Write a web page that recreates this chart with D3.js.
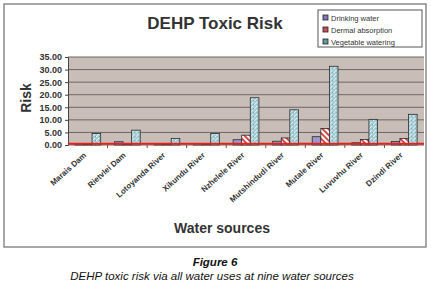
<!DOCTYPE html>
<html>
<head>
<meta charset="utf-8">
<script src="https://cdn.jsdelivr.net/npm/d3@7"></script>
<style>
  body { margin: 0; background: #fff; }
  svg { display: block; font-family: "Liberation Sans", Arial, sans-serif; }
</style>
</head>
<body>
<svg id="chart" width="431" height="288"></svg>
<script>
const sources = ["Marais Dam", "Rietvlei Dam", "Lotoyanda River", "Xikundu River", "Nzhelele River",
    "Mutshindudi River", "Mutale River", "Luvuvhu River", "Dzindi River"];
const series = ["Drinking water", "Dermal absorption", "Vegetable watering"];
const drinking = [0.1, 1.3, 0.1, 0.6, 2.1, 1.5, 3.3, 0.9, 1.4];
const dermal = [0.2, 0.3, 0.2, 0.2, 3.9, 2.8, 6.6, 2.2, 2.6];
const vegetable = [4.6, 5.9, 2.6, 4.6, 18.8, 14.0, 31.3, 10.2, 12.2];
const yTicks = [0, 5, 10, 15, 20, 25, 30, 35];
const threshold = 0.5;

const svg = d3.select("#chart");
const margin = { left: 68, right: 424, top: 57, bottom: 145 };

// patterns
var defs = svg.append("defs");
var stripes = defs.append("pattern")
    .attr("id", "stripes")
    .attr("patternUnits", "userSpaceOnUse")
    .attr("width", 4).attr("height", 4)
    .attr("patternTransform", "rotate(-45)");
stripes.append("rect").attr("width", 4).attr("height", 4).attr("fill", "#fff");
stripes.append("rect").attr("width", 2).attr("height", 4).attr("fill", "#d4494a");

var dots = defs.append("pattern")
    .attr("id", "dots")
    .attr("patternUnits", "userSpaceOnUse")
    .attr("width", 4).attr("height", 4);
dots.append("rect").attr("width", 4).attr("height", 4).attr("fill", "#a3ccd5");
dots.append("rect").attr("x", 0).attr("y", 0).attr("width", 1).attr("height", 1).attr("fill", "#fff");
dots.append("rect").attr("x", 2).attr("y", 2).attr("width", 1).attr("height", 1).attr("fill", "#f2fafb");
dots.append("rect").attr("x", 3).attr("y", 0).attr("width", 1).attr("height", 1).attr("fill", "#6f9eaa");
dots.append("rect").attr("x", 1).attr("y", 3).attr("width", 1).attr("height", 1).attr("fill", "#dcf0f3");

const fills = ["#9d97cf", "url(#stripes)", "url(#dots)"];
const swatchFills = ["#7f78bf", "#c85058", "#5f9aa5"];

// frame
svg.append("rect")
    .attr("x", 4).attr("y", 4).attr("width", 422).attr("height", 243)
    .attr("fill", "#fff").attr("stroke", "#8a8a8a").attr("stroke-width", 1.5);

const x = d3.scaleBand().domain(sources).range([margin.left, margin.right]).padding(0);
const xInner = d3.scaleBand().domain(series).range([0, x.bandwidth()]).paddingInner(0).paddingOuter(0.8);
const y = d3.scaleLinear().domain([0, 35]).range([margin.bottom, margin.top]);

// plot background
svg.append("rect")
    .attr("x", margin.left).attr("y", margin.top)
    .attr("width", margin.right - margin.left).attr("height", margin.bottom - margin.top)
    .attr("fill", "#c9bdb7");

// gridlines
svg.append("g").selectAll("line")
    .data(yTicks)
    .join("line")
    .attr("x1", margin.left).attr("x2", margin.right)
    .attr("y1", d => y(d)).attr("y2", d => y(d))
    .attr("stroke", "#6e6664").attr("stroke-width", 1);

// y axis
var yAxis = svg.append("g")
    .attr("transform", "translate(" + margin.left + ",0)")
    .call(d3.axisLeft(y).tickValues(yTicks).tickFormat(d3.format(".2f")).tickSize(3).tickPadding(3));
yAxis.select(".domain").attr("stroke", "#444");
yAxis.selectAll(".tick line").attr("stroke", "#444");
yAxis.selectAll("text")
    .attr("font-size", 9).attr("font-weight", "bold").attr("fill", "#333")
    .attr("font-family", "'Liberation Sans', Arial, sans-serif");

// bars
var data = sources.map((s, i) => ({ source: s, values: [drinking[i], dermal[i], vegetable[i]] }));
var groups = svg.append("g").selectAll("g")
    .data(data)
    .join("g")
    .attr("transform", d => "translate(" + x(d.source) + ",0)");
groups.selectAll("rect")
    .data(d => d.values.map((v, j) => ({ key: series[j], value: v, idx: j })))
    .join("rect")
    .attr("x", d => xInner(d.key))
    .attr("y", d => y(d.value))
    .attr("width", xInner.bandwidth())
    .attr("height", d => y(0) - y(d.value))
    .attr("fill", d => fills[d.idx])
    .attr("stroke", "#2a2a2a")
    .attr("stroke-width", 0.8);

// red reference line
svg.append("line")
    .attr("x1", margin.left).attr("x2", margin.right)
    .attr("y1", y(threshold)).attr("y2", y(threshold))
    .attr("stroke", "#e0231f").attr("stroke-width", 2);

// x axis
var xAxis = svg.append("g")
    .attr("transform", "translate(0," + margin.bottom + ")");
xAxis.selectAll("line")
    .data(sources.slice(1))
    .join("line")
    .attr("x1", d => x(d)).attr("x2", d => x(d))
    .attr("y1", 0).attr("y2", 3)
    .attr("stroke", "#555");
xAxis.selectAll("text")
    .data(sources)
    .join("text")
    .attr("transform", d => "translate(" + (x(d) + x.bandwidth() / 2 - 1) + ",11) rotate(-42)")
    .attr("text-anchor", "end")
    .attr("font-size", 8).attr("font-weight", "bold").attr("fill", "#333")
    .text(d => d);

// titles
svg.append("text")
    .attr("x", 215).attr("y", 29)
    .attr("text-anchor", "middle")
    .attr("font-size", 17).attr("font-weight", "bold").attr("fill", "#333")
    .text("DEHP Toxic Risk");
svg.append("text")
    .attr("x", 222).attr("y", 233)
    .attr("text-anchor", "middle")
    .attr("font-size", 14).attr("font-weight", "bold").attr("fill", "#333")
    .text("Water sources");
svg.append("text")
    .attr("transform", "translate(31,98) rotate(-90)")
    .attr("text-anchor", "middle")
    .attr("font-size", 14).attr("font-weight", "bold").attr("fill", "#333")
    .text("Risk");

// legend
var legend = svg.append("g").attr("transform", "translate(318,10)");
legend.append("rect")
    .attr("width", 104).attr("height", 37)
    .attr("fill", "#fff").attr("stroke", "#555").attr("stroke-width", 1);
var items = legend.selectAll("g.item")
    .data(series)
    .join("g")
    .attr("class", "item")
    .attr("transform", (d, i) => "translate(5," + (5 + i * 12) + ")");
items.append("rect")
    .attr("x", 0).attr("y", 0).attr("width", 5).attr("height", 5)
    .attr("fill", (d, i) => swatchFills[i])
    .attr("stroke", "#222").attr("stroke-width", 0.8);
items.append("text")
    .attr("x", 8).attr("y", 5.5)
    .attr("font-size", 7.5).attr("fill", "#333")
    .text(d => d);

// caption
svg.append("text")
    .attr("x", 215).attr("y", 266)
    .attr("text-anchor", "middle")
    .attr("font-size", 11.5).attr("font-weight", "bold").attr("font-style", "italic").attr("fill", "#111")
    .text("Figure 6");
svg.append("text")
    .attr("x", 212).attr("y", 280)
    .attr("text-anchor", "middle")
    .attr("font-size", 11.5).attr("font-style", "italic").attr("fill", "#111")
    .text("DEHP toxic risk via all water uses at nine water sources");
</script>
</body>
</html>
